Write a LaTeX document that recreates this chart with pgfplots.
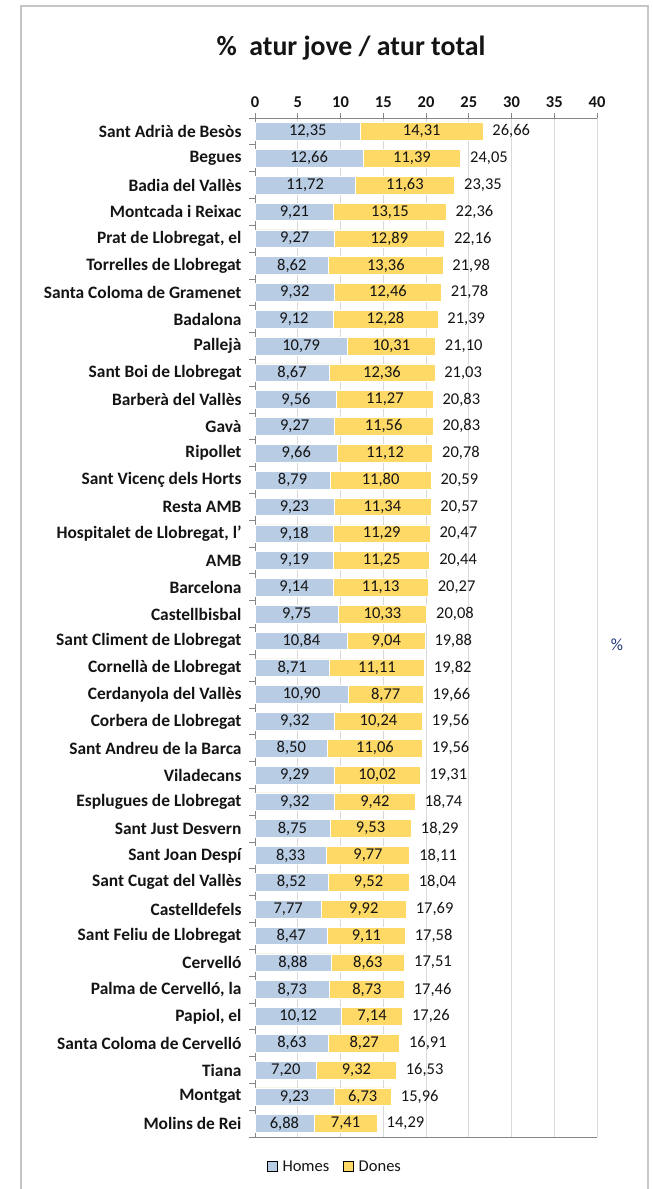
\documentclass[border=0pt]{standalone}
\usepackage{fontspec}
\setmainfont{Carlito}
\usepackage{pgfplots}
\pgfplotsset{compat=1.18}
\usepackage{pgfplotstable}
\definecolor{homes}{RGB}{184,204,228}
\definecolor{dones}{RGB}{255,217,102}
\definecolor{axgray}{RGB}{134,134,134}
\definecolor{gridgray}{RGB}{217,217,217}
\definecolor{pctblue}{RGB}{31,56,120}
\definecolor{txt}{RGB}{20,20,20}

\pgfplotstableread{
i h d t
0 12.35 14.31 26.66
1 12.66 11.39 24.05
2 11.72 11.63 23.35
3 9.21 13.15 22.36
4 9.27 12.89 22.16
5 8.62 13.36 21.98
6 9.32 12.46 21.78
7 9.12 12.28 21.39
8 10.79 10.31 21.10
9 8.67 12.36 21.03
10 9.56 11.27 20.83
11 9.27 11.56 20.83
12 9.66 11.12 20.78
13 8.79 11.80 20.59
14 9.23 11.34 20.57
15 9.18 11.29 20.47
16 9.19 11.25 20.44
17 9.14 11.13 20.27
18 9.75 10.33 20.08
19 10.84 9.04 19.88
20 8.71 11.11 19.82
21 10.90 8.77 19.66
22 9.32 10.24 19.56
23 8.50 11.06 19.56
24 9.29 10.02 19.31
25 9.32 9.42 18.74
26 8.75 9.53 18.29
27 8.33 9.77 18.11
28 8.52 9.52 18.04
29 7.77 9.92 17.69
30 8.47 9.11 17.58
31 8.88 8.63 17.51
32 8.73 8.73 17.46
33 10.12 7.14 17.26
34 8.63 8.27 16.91
35 7.20 9.32 16.53
36 9.23 6.73 15.96
37 6.88 7.41 14.29
}\data

\begin{document}
\begin{tikzpicture}[x=1pt,y=1pt]
\useasboundingbox (0pt,0pt) rectangle (653pt,-1189pt);
\draw[gray!45, line width=1.2pt] (21pt,-6pt) rectangle (648pt,-1210pt);
\node[font=\fontsize{27.8}{30}\selectfont\bfseries, text=txt] at (351pt,-48pt) {\%\ \ atur jove / atur total};
\node[font=\fontsize{17}{18}\selectfont, text=pctblue] at (617pt,-645pt) {\%};
\begin{axis}[
  at={(255pt,-1137pt)}, anchor=south west,
  scale only axis, width=342pt, height=1019pt,
  /pgf/number format/assume math mode=true,
  xmin=0, xmax=40, xtick={0,5,...,40},
  ymin=-0.5, ymax=37.5, y dir=reverse,
  ytick={0,...,37},
  minor ytick={-0.5,0.5,...,37.5},
  axis x line*=top, axis y line*=left,
  axis line style={axgray, line width=1pt, -},
  tick align=outside,
  major tick length=5pt, minor tick length=6pt,
  every tick/.style={axgray, line width=0.8pt},
  ytick style={draw=none},
  minor y tick style={draw=axgray, line width=0.8pt},
  xmajorgrids, major grid style={gridgray, line width=0.8pt},
  xticklabel style={font=\fontsize{16.5}{18}\selectfont\bfseries, text=txt, yshift=2pt},
  yticklabel style={font=\fontsize{17.4}{19}\selectfont\bfseries, text=txt, xshift=-5pt},
  yticklabels={Sant Adrià de Besòs, Begues, Badia del Vallès, Montcada i Reixac, {Prat de Llobregat, el}, Torrelles de Llobregat, Santa Coloma de Gramenet, Badalona, Pallejà, Sant Boi de Llobregat, Barberà del Vallès, Gavà, Ripollet, Sant Vicenç dels Horts, Resta AMB, {Hospitalet de Llobregat, l'}, AMB, Barcelona, Castellbisbal, Sant Climent de Llobregat, Cornellà de Llobregat, Cerdanyola del Vallès, Corbera de Llobregat, Sant Andreu de la Barca, Viladecans, Esplugues de Llobregat, Sant Just Desvern, Sant Joan Despí, Sant Cugat del Vallès, Castelldefels, Sant Feliu de Llobregat, Cervelló, {Palma de Cervelló, la}, {Papiol, el}, Santa Coloma de Cervelló, Tiana, Montgat, Molins de Rei},
  clip=false,
  legend style={at={(axis description cs:0.234,-0.029)}, anchor=center, draw=none, fill=none, font=\fontsize{16.5}{18}\selectfont, text=txt, /tikz/every even column/.append style={column sep=12pt}},
  legend columns=2,
  legend image code/.code={\fill[#1] (0pt,-5pt) rectangle (10pt,5pt); \path (13pt,0pt);},
  nodes near coords={\pgfmathprintnumber[use comma,fixed,fixed zerofill,precision=2,assume math mode=true]{\pgfplotspointmeta}},
  every node near coord/.append style={font=\fontsize{16.5}{18}\selectfont, text=txt},
]
\addlegendimage{fill=homes}
\addlegendentry{Homes}
\addlegendimage{fill=dones}
\addlegendentry{Dones}
\addplot[forget plot, xbar, bar width=0.66, bar shift=0pt, fill=dones, draw=white, line width=0.6pt, nodes near coords={}] table[x expr=\thisrow{h}+\thisrow{d}, y=i]{\data};
\addplot[forget plot, xbar, bar width=0.66, bar shift=0pt, fill=homes, draw=white, line width=0.6pt, nodes near coords={}] table[x=h, y=i]{\data};
\addplot[forget plot, draw=none, mark=none, point meta=explicit, every node near coord/.append style={anchor=center}] table[x expr=\thisrow{h}/2, y=i, meta=h]{\data};
\addplot[forget plot, draw=none, mark=none, point meta=explicit, every node near coord/.append style={anchor=center}] table[x expr=\thisrow{h}+\thisrow{d}/2, y=i, meta=d]{\data};
\addplot[forget plot, draw=none, mark=none, point meta=explicit, every node near coord/.append style={anchor=west, xshift=6pt}] table[x=t, y=i, meta=t]{\data};
\draw[axgray, line width=1pt] (axis cs:0,37.5) -- (axis cs:40,37.5);
\end{axis}
\end{tikzpicture}
\end{document}
